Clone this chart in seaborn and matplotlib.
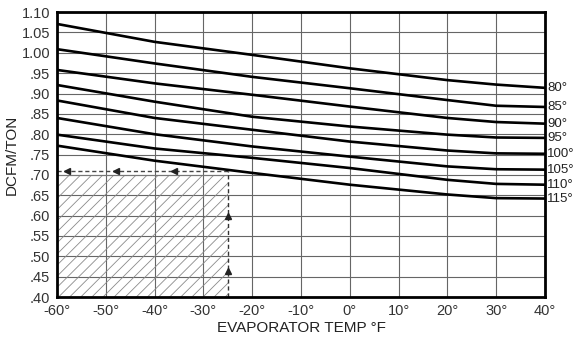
import pandas as pd
import matplotlib.pyplot as plt
import seaborn as sns

# Evaporator temp (F) where curves were read
evap_temp = [-60, -40, -20, 0, 20, 30, 40]

# DCFM/TON per condensing temp curve
cond_temps = [80, 85, 90, 95, 100, 105, 110, 115]
dcfm = {
    80:  [1.071, 1.027, 0.995, 0.962, 0.933, 0.922, 0.914],
    85:  [1.009, 0.974, 0.941, 0.913, 0.884, 0.870, 0.867],
    90:  [0.958, 0.925, 0.897, 0.868, 0.840, 0.830, 0.826],
    95:  [0.921, 0.880, 0.843, 0.819, 0.799, 0.792, 0.791],
    100: [0.883, 0.840, 0.811, 0.782, 0.760, 0.753, 0.752],
    105: [0.840, 0.800, 0.770, 0.745, 0.721, 0.714, 0.713],
    110: [0.799, 0.765, 0.742, 0.717, 0.688, 0.678, 0.676],
    115: [0.772, 0.735, 0.705, 0.676, 0.652, 0.643, 0.642],
}

x_ticks = [-60, -50, -40, -30, -20, -10, 0, 10, 20, 30, 40]
x_labels = ["-60°", "-50°", "-40°", "-30°", "-20°", "-10°", "0°", "10°", "20°", "30°", "40°"]
y_ticks = [0.40, 0.45, 0.50, 0.55, 0.60, 0.65, 0.70, 0.75, 0.80, 0.85, 0.90, 0.95, 1.00, 1.05, 1.10]
y_labels = [".40", ".45", ".50", ".55", ".60", ".65", ".70", ".75", ".80", ".85", ".90", ".95", "1.00", "1.05", "1.10"]

# shaded region (limit)
limit_temp = -25
limit_dcfm = 0.70
dash_dcfm = 0.71

rows = []
for c in cond_temps:
    for t, v in zip(evap_temp, dcfm[c]):
        rows.append({"evap": t, "dcfm": v, "cond": c})
df = pd.DataFrame(rows)

sns.set_style("white")
plt.rcParams["font.family"] = ["Liberation Sans", "DejaVu Sans"]
plt.rcParams["hatch.linewidth"] = 0.6

fig = plt.figure(figsize=(5.76, 3.47), dpi=100)
ax = fig.add_axes([0.099, 0.144, 0.847, 0.821])

sns.lineplot(data=df, x="evap", y="dcfm", hue="cond", palette=["black"] * len(cond_temps),
             linewidth=1.9, legend=False, ax=ax, zorder=3)

ax.set_xlim(-60, 40)
ax.set_ylim(0.40, 1.10)
ax.set_xticks(x_ticks)
ax.set_xticklabels(x_labels, fontsize=10.5, color="#333333")
ax.set_yticks(y_ticks)
ax.set_yticklabels(y_labels, fontsize=10.5, color="#333333")
ax.tick_params(length=3, width=1, pad=2)
ax.grid(True, color="#666666", linewidth=0.8)
for s in ax.spines.values():
    s.set_linewidth(2)
    s.set_color("black")

# hatched region and dashed limit lines
ax.fill_between([-60, limit_temp], 0.40, limit_dcfm, facecolor="none",
                edgecolor="#8a8a8a", hatch="///", linewidth=0, zorder=1)
ax.plot([-60, limit_temp], [dash_dcfm, dash_dcfm], ls=(0, (3, 2)), color="#444444", lw=1, zorder=2)
ax.plot([-60, limit_temp], [limit_dcfm, limit_dcfm], color="#777777", lw=0.8, zorder=2)
ax.plot([limit_temp, limit_temp], [0.40, dash_dcfm], ls=(0, (3, 2)), color="#333333", lw=1, zorder=2)
ax.plot([-58, -48, -36], [dash_dcfm] * 3, ls="none", marker="<", color="#222222", ms=4, zorder=4)
ax.plot([limit_temp, limit_temp], [0.60, 0.465], ls="none", marker="^", color="#222222", ms=4, zorder=4)

# curve labels at the right edge
for c in cond_temps:
    ax.text(40.5, dcfm[c][-1], f"{c}°", fontsize=9.5, va="center", ha="left",
            color="#222222", clip_on=False)

ax.set_xlabel("EVAPORATOR TEMP °F", fontsize=11, color="#222222", labelpad=2)
ax.set_ylabel("DCFM/TON", fontsize=11, color="#222222", labelpad=2)

fig.savefig("out.png", dpi=100)
